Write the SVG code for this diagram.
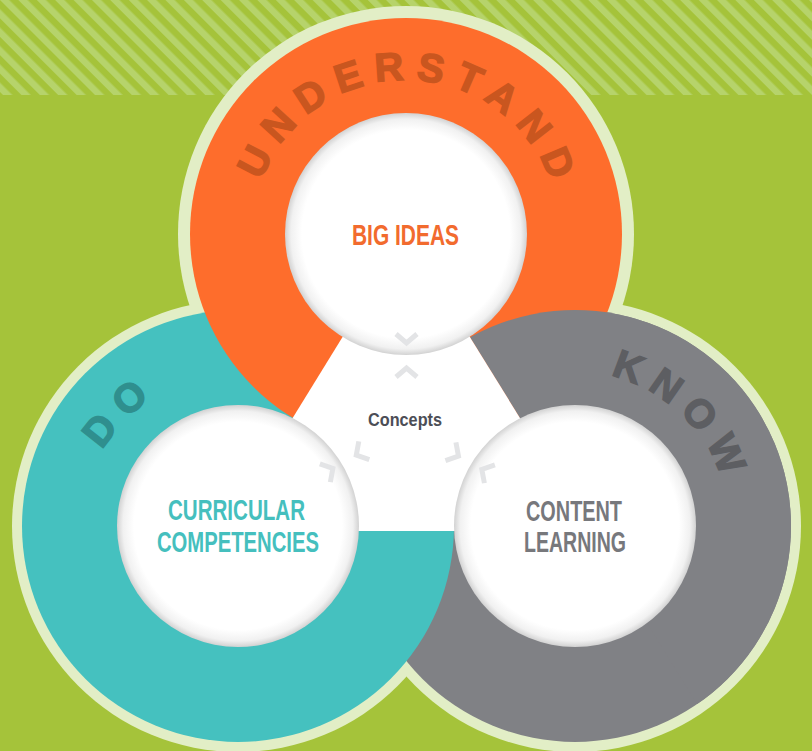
<svg xmlns="http://www.w3.org/2000/svg" width="812" height="751" viewBox="0 0 812 751">
  <defs>
    <pattern id="stripes" width="13" height="13" patternUnits="userSpaceOnUse" patternTransform="rotate(-45)">
      <rect width="13" height="13" fill="#a5c33a"/>
      <rect width="6.5" height="13" fill="#b6d36b"/>
    </pattern>
    <radialGradient id="inner" cx="50%" cy="50%" r="50%">
      <stop offset="0.86" stop-color="#ffffff"/>
      <stop offset="0.95" stop-color="#f1f1f1"/>
      <stop offset="1" stop-color="#d2d2d2"/>
    </radialGradient>
    <clipPath id="grayTop">
      <polygon points="406,234 958,1125 1200,1125 1200,-100 406,-100"/>
    </clipPath>
    <path id="arcU" d="M406,388 A154,154 0 1 1 406,80 A154,154 0 1 1 406,388"/>
    <path id="arcD" d="M346.1,635.6 A154,154 0 1 1 129.9,416.4 A154,154 0 1 1 346.1,635.6"/>
    <path id="arcK" d="M471.4,640 A154,154 0 1 1 678.6,412 A154,154 0 1 1 471.4,640"/>
  </defs>
  <style>
    .rim { fill: #e2eec6; }
    .hole { fill: url(#inner); }
    .ring { font-family: "Liberation Sans", "DejaVu Sans", sans-serif; font-weight: bold; font-size: 40px; stroke-width: 1.4px; }
    .label { font-family: "Liberation Sans Narrow", "Liberation Sans", "DejaVu Sans Condensed", sans-serif; font-weight: bold; font-size: 29px; text-anchor: middle; }
    .chev { fill: none; stroke: #e3e4e6; stroke-width: 5; stroke-linejoin: miter; }
  </style>

  <g id="background">
    <rect width="812" height="751" fill="#a5c33a"/>
    <rect width="812" height="95" fill="url(#stripes)"/>
  </g>

  <g id="rims">
    <circle class="rim" cx="406" cy="234" r="228"/>
    <circle class="rim" cx="238" cy="526" r="226"/>
    <circle class="rim" cx="575" cy="526" r="226"/>
  </g>

  <g id="rings">
    <circle id="ring-know" cx="575" cy="526" r="216" fill="#808185"/>
    <circle id="ring-do" cx="238" cy="526" r="216" fill="#45c1bf"/>
    <circle id="ring-understand" cx="406" cy="234" r="216" fill="#fe6d2c"/>
    <circle cx="575" cy="526" r="216" fill="#808185" clip-path="url(#grayTop)"/>
  </g>

  <polygon id="concepts-area" points="406,234 223,531 590,531" fill="#ffffff"/>

  <g id="node-understand">
    <circle class="hole" cx="406" cy="234" r="121"/>
    <text class="ring" fill="#c9561f" stroke="#c9561f" letter-spacing="11"><textPath href="#arcU" startOffset="489.3" text-anchor="middle">UNDERSTAND</textPath></text>
    <text class="label" x="405.5" y="245" fill="#f26b2e" font-size="30" textLength="107" lengthAdjust="spacingAndGlyphs">BIG IDEAS</text>
  </g>

  <g id="node-do">
    <circle class="hole" cx="238" cy="526" r="121"/>
    <text class="ring" fill="#2f8f8e" stroke="#2f8f8e" letter-spacing="11"><textPath href="#arcD" startOffset="489.3" text-anchor="middle">DO</textPath></text>
    <text class="label" x="236.5" y="520" fill="#45bfbe" textLength="137" lengthAdjust="spacingAndGlyphs">CURRICULAR</text>
    <text class="label" x="238" y="552" fill="#45bfbe" textLength="162" lengthAdjust="spacingAndGlyphs">COMPETENCIES</text>
  </g>

  <g id="node-know">
    <circle class="hole" cx="575" cy="526" r="121"/>
    <text class="ring" fill="#5d5e62" stroke="#5d5e62" letter-spacing="10"><textPath href="#arcK" startOffset="488.8" text-anchor="middle">KNOW</textPath></text>
    <text class="label" x="574" y="521" fill="#77787c" textLength="96" lengthAdjust="spacingAndGlyphs">CONTENT</text>
    <text class="label" x="575" y="552" fill="#77787c" textLength="102" lengthAdjust="spacingAndGlyphs">LEARNING</text>
  </g>

  <g id="node-concepts">
    <text x="405" y="426" font-family="Liberation Sans Narrow, Liberation Sans, sans-serif" font-weight="bold" font-size="18" fill="#4c4e56" text-anchor="middle" textLength="74" lengthAdjust="spacingAndGlyphs">Concepts</text>
  </g>

  <g id="connectors">
    <g transform="rotate(0 406.5 426)">
      <polyline class="chev" points="396,377 406.5,368 417,377"/>
      <polyline class="chev" points="396,334 406.5,343 417,334"/>
    </g>
    <g transform="rotate(-120 406.5 426)">
      <polyline class="chev" points="396,377 406.5,368 417,377"/>
      <polyline class="chev" points="396,332 406.5,341 417,332"/>
    </g>
    <g transform="rotate(120 406.5 426)">
      <polyline class="chev" points="396,375 406.5,366 417,375"/>
      <polyline class="chev" points="396,330 406.5,339 417,330"/>
    </g>
  </g>
</svg>
